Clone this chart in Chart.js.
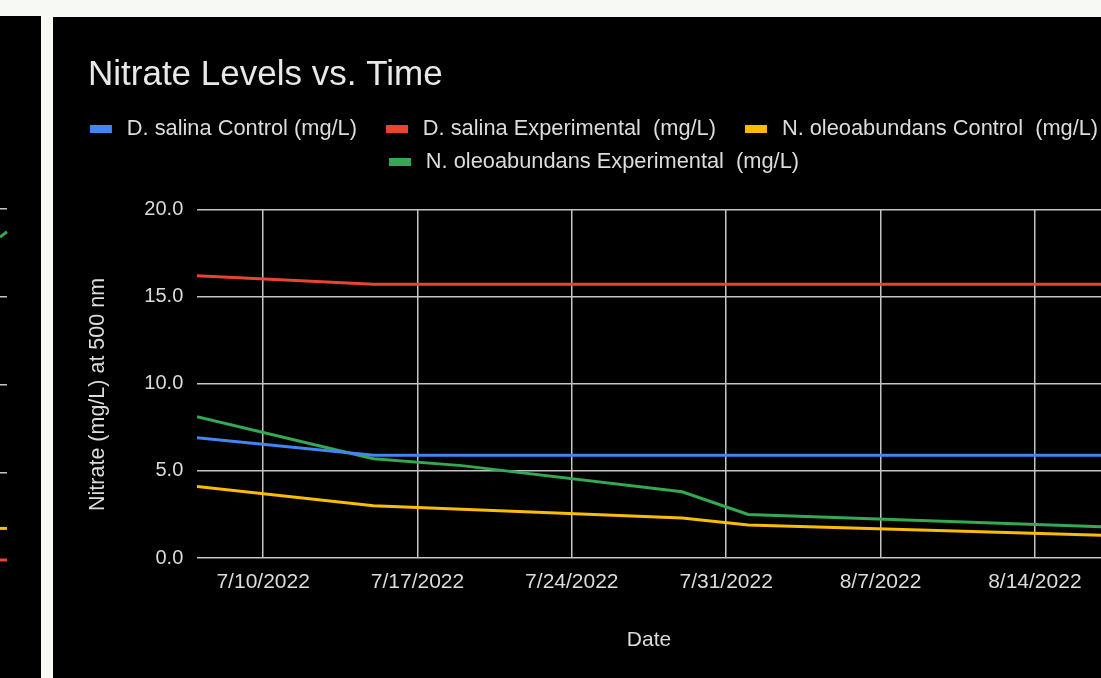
<!DOCTYPE html>
<html>
<head>
<meta charset="utf-8">
<script src="https://cdn.jsdelivr.net/npm/chart.js@4.4.1/dist/chart.umd.min.js"></script>
<style>
  html, body { margin: 0; padding: 0; width: 1101px; height: 678px; overflow: hidden; background: #f7f9f4; }
  #sidePanel { position: absolute; left: 0; top: 16px; width: 41px; height: 662px; background: #000; overflow: hidden; }
  #mainPanel { position: absolute; left: 53px; top: 17px; width: 1048px; height: 661px; background: #000; overflow: hidden; }
  canvas { display: block; }
</style>
</head>
<body>
<div id="sidePanel"><canvas id="side" width="41" height="662"></canvas></div>
<div id="mainPanel"><canvas id="chart" width="1064" height="661"></canvas></div>
<script>
// Sampling dates and nitrate readings (mg/L)
const sampleDates = ['2022-07-07', '2022-07-15', '2022-07-19', '2022-07-29', '2022-08-01', '2022-08-17'];
const salinaControl = [6.9, 5.9, 5.9, 5.9, 5.9, 5.9];
const salinaExperimental = [16.2, 15.7, 15.7, 15.7, 15.7, 15.7];
const oleoControl = [4.1, 3.0, 2.8, 2.3, 1.9, 1.3];
const oleoExperimental = [8.1, 5.7, 5.3, 3.8, 2.5, 1.8];

const seriesNames = [
  'D. salina Control (mg/L)',
  'D. salina Experimental  (mg/L)',
  'N. oleoabundans Control  (mg/L)',
  'N. oleoabundans Experimental  (mg/L)'
];
const axisStart = '2022-07-07';
const axisEnd = '2022-08-17';
const tickDates = ['2022-07-10', '2022-07-17', '2022-07-24', '2022-07-31', '2022-08-07', '2022-08-14'];
const yTicks = [0, 5, 10, 15, 20];

// Neighbouring chart (only its right edge is in view)
const sideX = [0, 1];
const sideGreen = [18.4, 18.7];
const sideYellow = [1.8, 1.8];
const sideRed = [0, 0];

const FONT = '"Liberation Sans", Arial, sans-serif';
const COLORS = { blue: '#4285f4', red: '#ea4335', yellow: '#fbbc04', green: '#34a853' };
const GRID = '#c4c4c4';
const TEXT = '#dcdcdc';

const DAY = 86400000;
const toDay = s => { const [y, m, d] = s.split('-').map(Number); return Date.UTC(y, m - 1, d) / DAY; };
const fmtDay = v => { const dt = new Date(Math.round(v) * DAY); return (dt.getUTCMonth() + 1) + '/' + dt.getUTCDate() + '/' + dt.getUTCFullYear(); };

// Legend key: a 22x8 bar placed inside a wider transparent strip
function legendBar(color) {
  const c = document.createElement('canvas');
  c.width = 44; c.height = 8;
  const g = c.getContext('2d');
  g.fillStyle = color;
  g.fillRect(18, 0, 22, 8);
  return c;
}

function series(values, label, color) {
  return {
    label,
    data: values.map((v, i) => ({ x: toDay(sampleDates[i]), y: v })),
    borderColor: color,
    backgroundColor: color,
    borderWidth: 3,
    pointRadius: 0,
    pointHoverRadius: 0,
    pointStyle: legendBar(color),
    tension: 0,
    xAxisID: 'x',
    yAxisID: 'y'
  };
}

// Shifts the chart title in from the left edge
const titleInset = {
  id: 'titleInset',
  afterLayout(chart) { if (chart.titleBlock) chart.titleBlock.left += 35; }
};

new Chart(document.getElementById('chart'), {
  type: 'line',
  data: {
    datasets: [
      series(salinaControl, seriesNames[0], COLORS.blue),
      series(salinaExperimental, seriesNames[1], COLORS.red),
      series(oleoControl, seriesNames[2], COLORS.yellow),
      series(oleoExperimental, seriesNames[3], COLORS.green)
    ]
  },
  plugins: [titleInset],
  options: {
    responsive: false,
    animation: false,
    events: [],
    layout: { padding: 0 },
    plugins: {
      tooltip: { enabled: false },
      title: {
        display: true,
        text: 'Nitrate Levels vs. Time',
        align: 'start',
        color: '#e8e8e8',
        font: { family: FONT, size: 35, weight: 'normal' },
        padding: { top: 37, bottom: 10.8 }
      },
      legend: {
        display: true,
        position: 'top',
        align: 'center',
        labels: {
          usePointStyle: true,
          pointStyleWidth: 44,
          padding: 11,
          color: TEXT,
          font: { family: FONT, size: 21.8 }
        }
      }
    },
    scales: {
      x: {
        type: 'linear',
        position: 'bottom',
        min: toDay(axisStart),
        max: toDay(axisEnd),
        afterBuildTicks: s => { s.ticks = tickDates.map(d => ({ value: toDay(d) })); },
        afterFit: s => { s.height = 120; },
        grid: { color: GRID, lineWidth: 1.5, drawTicks: false },
        border: { display: false },
        ticks: {
          autoSkip: false, maxRotation: 0, padding: 11.5,
          color: TEXT, font: { family: FONT, size: 21 },
          callback: v => fmtDay(v)
        },
        title: {
          display: true, text: 'Date', color: TEXT,
          font: { family: FONT, size: 21 },
          padding: { top: 0, bottom: 25 }
        }
      },
      y: {
        type: 'linear',
        position: 'left',
        min: 0,
        max: 20,
        afterBuildTicks: s => { s.ticks = yTicks.map(v => ({ value: v })); },
        afterFit: s => { s.width = 144; },
        grid: { color: GRID, lineWidth: 1.5, drawTicks: false },
        border: { display: false },
        ticks: {
          padding: 13.7,
          color: TEXT, font: { family: FONT, size: 20 },
          callback: v => v.toFixed(1)
        },
        title: {
          display: true, text: 'Nitrate (mg/L) at 500 nm\u2003', color: TEXT,
          font: { family: FONT, size: 21.5 },
          padding: { top: 32.6, bottom: 0 }
        }
      },
      topGap: {
        type: 'linear', axis: 'x', position: 'top', display: true,
        afterFit: s => { s.height = 27; },
        grid: { display: false }, border: { display: false }, ticks: { display: false }
      },
      rightGap: {
        type: 'linear', axis: 'y', position: 'right', display: true,
        afterFit: s => { s.width = 16; },
        grid: { display: false }, border: { display: false }, ticks: { display: false }
      }
    }
  }
});

function sideSeries(values, color) {
  return {
    data: values.map((v, i) => ({ x: sideX[i], y: v })),
    borderColor: color,
    borderWidth: 3,
    pointRadius: 0,
    clip: false,
    tension: 0
  };
}

new Chart(document.getElementById('side'), {
  type: 'line',
  data: {
    datasets: [
      sideSeries(sideGreen, COLORS.green),
      sideSeries(sideYellow, COLORS.yellow),
      sideSeries(sideRed, COLORS.red)
    ]
  },
  options: {
    responsive: false,
    animation: false,
    events: [],
    layout: { padding: { left: 0, right: 34, top: 193, bottom: 118 } },
    plugins: { legend: { display: false }, tooltip: { enabled: false }, title: { display: false } },
    scales: {
      x: { type: 'linear', min: 0, max: 1, display: false },
      y: {
        type: 'linear', min: 0, max: 20, display: true,
        afterBuildTicks: s => { s.ticks = yTicks.map(v => ({ value: v })); },
        afterFit: s => { s.width = 0; },
        grid: { color: GRID, lineWidth: 1.5, drawTicks: false },
        border: { display: false },
        ticks: { display: false }
      }
    }
  }
});
</script>
</body>
</html>
